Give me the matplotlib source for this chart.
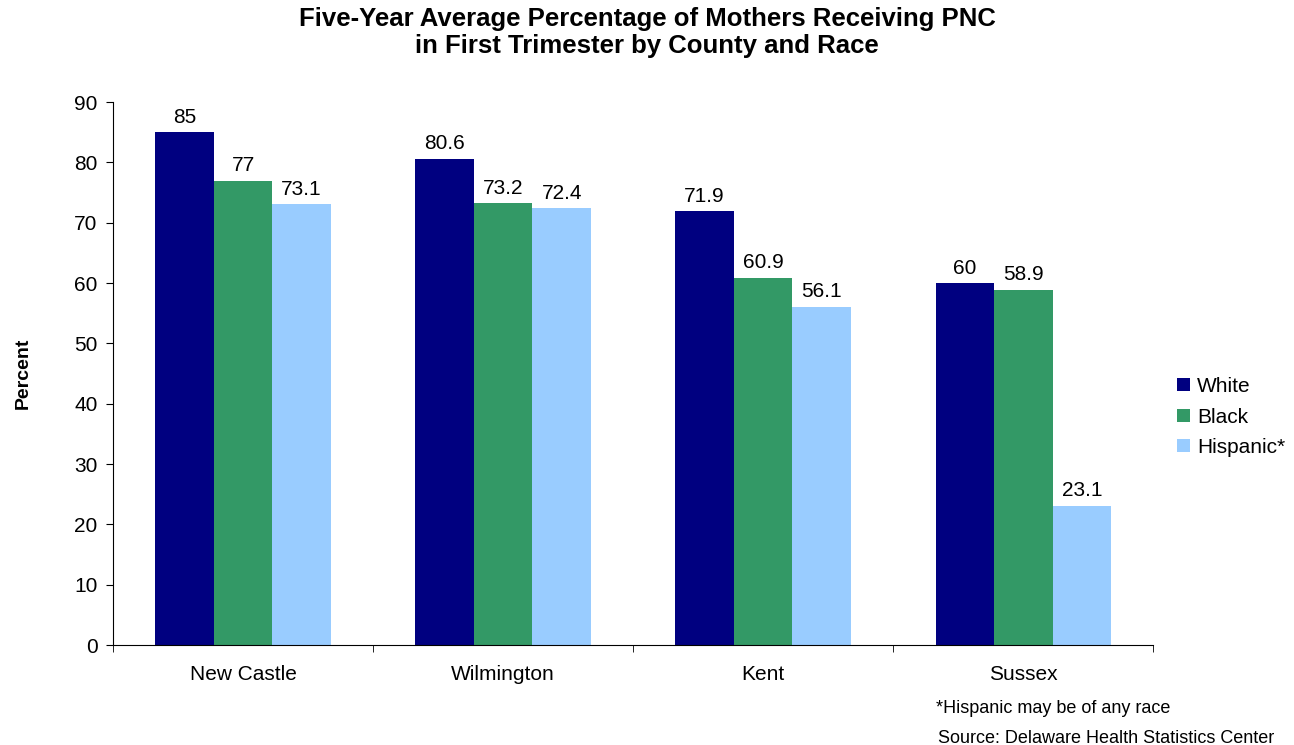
import matplotlib.pyplot as plt
import numpy as np

plt.rcParams['font.family'] = ['Liberation Sans', 'DejaVu Sans']

counties = ["New Castle", "Wilmington", "Kent", "Sussex"]
white = [85, 80.6, 71.9, 60]
black = [77, 73.2, 60.9, 58.9]
hispanic = [73.1, 72.4, 56.1, 23.1]

fig = plt.figure(figsize=(12.94, 7.45), dpi=100)
ax = fig.add_axes([0.0873, 0.134, 0.804, 0.729])

x = np.arange(len(counties))
w = 0.225
series = [("White", white, "#000080"), ("Black", black, "#339966"), ("Hispanic*", hispanic, "#99CCFF")]
for i, (name, vals, col) in enumerate(series):
    pos = x + (i - 1) * w
    ax.bar(pos, vals, width=w, color=col, label=name)
    for p, v in zip(pos, vals):
        ax.text(p, v + 0.9, "{:g}".format(v), ha="center", va="bottom", fontsize=15)

ax.set_xlim(-0.5, 3.5)
ax.set_ylim(0, 90)
ax.set_yticks(range(0, 91, 10))
ax.set_xticks(x)
ax.set_xticklabels(counties, fontsize=15)
ax.set_xticks(np.arange(-0.5, 4, 1), minor=True)
ax.tick_params(axis="x", which="major", length=0, pad=14)
ax.tick_params(axis="x", which="minor", length=5, direction="out")
ax.tick_params(axis="y", labelsize=15, length=5, direction="out", pad=6)
ax.spines["top"].set_visible(False)
ax.spines["right"].set_visible(False)
ax.set_ylabel("Percent", fontsize=14, fontweight="bold", labelpad=31)

fig.suptitle("Five-Year Average Percentage of Mothers Receiving PNC\nin First Trimester by County and Race",
             x=0.5, y=0.99, fontsize=18.5, fontweight="bold", linespacing=1.15)

ax.legend(loc="center left", bbox_to_anchor=(1.005, 0.42), frameon=False, fontsize=15,
          handlelength=0.6, handleheight=0.6, handletextpad=0.35, labelspacing=0.55)

fig.text(0.723, 0.043, "*Hispanic may be of any race", fontsize=13)
fig.text(0.725, 0.003, "Source: Delaware Health Statistics Center", fontsize=13)

fig.savefig("out.png", dpi=100)
